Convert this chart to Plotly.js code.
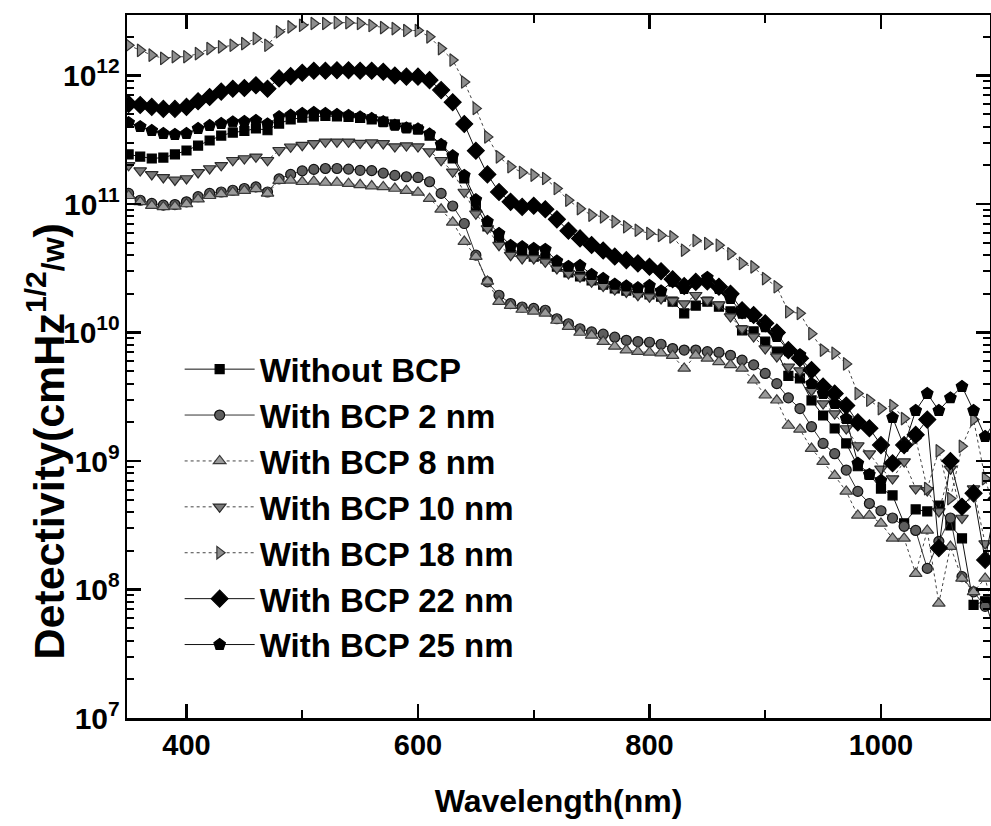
<!DOCTYPE html>
<html>
<head>
<meta charset="utf-8">
<script src="https://cdn.plot.ly/plotly-3.0.1.min.js"></script>
<style>
  html, body { margin: 0; padding: 0; background: #fff; }
  #chart { width: 991px; height: 826px; }
</style>
</head>
<body>
<div id="chart"></div>
<script>
// Wavelength (nm)
const wavelength = [350,360,370,380,390,400,410,420,430,440,450,460,470,480,490,500,510,520,530,540,550,560,570,580,590,600,
  610,620,630,640,650,660,670,680,690,700,710,720,730,740,750,760,770,780,790,800,810,820,830,840,850,860,870,880,890,900,
  910,920,930,940,950,960,970,980,990,1000,1010,1020,1030,1040,1050,1060,1070,1080,1090,1100];

// Detectivity (cmHz^1/2/W)
const withoutBCP = [2.43e11,2.34e11,2.26e11,2.3e11,2.43e11,2.61e11,2.85e11,3.12e11,3.41e11,3.6e11,3.7e11,3.87e11,3.75e11,
  4.23e11,4.55e11,4.71e11,4.8e11,4.85e11,4.8e11,4.76e11,4.67e11,4.55e11,4.38e11,4.16e11,3.94e11,3.8e11,
  3.41e11,2.85e11,2.26e11,1.58e11,9.7e10,6.7e10,5.4e10,4.5e10,4.12e10,3.9e10,3.77e10,3.26e10,2.93e10,
  2.73e10,2.54e10,2.36e10,2.2e10,2.12e10,2.05e10,1.98e10,1.9e10,1.74e10,1.41e10,1.62e10,1.74e10,1.59e10,
  1.46e10,1.04e10,1.02e10,8.5e9,7.1e9,4.6e9,4.4e9,2.96e9,2.26e9,1.79e9,1.37e9,9.1e8,7.85e8,
  6.1e8,5.4e8,3.27e8,4.2e8,4.05e8,4.5e8,3.15e8,2.5e8,7.6e7,8.1e7,4.2e7];

const bcp2 = [1.21e11,1.07e11,1.01e11,9.8e10,9.9e10,1.04e11,1.14e11,1.21e11,1.24e11,1.28e11,1.32e11,1.36e11,1.24e11,
  1.57e11,1.7e11,1.81e11,1.86e11,1.89e11,1.89e11,1.87e11,1.83e11,1.82e11,1.74e11,1.67e11,1.63e11,1.61e11,
  1.49e11,1.21e11,9.65e10,7.05e10,4.0e10,2.48e10,1.95e10,1.68e10,1.58e10,1.54e10,1.49e10,1.28e10,1.17e10,
  1.07e10,1.01e10,9.7e9,9.2e9,8.7e9,8.5e9,8.4e9,8.1e9,7.5e9,7.3e9,7.3e9,7.1e9,7.0e9,
  6.65e9,6.1e9,5.6e9,4.8e9,4.0e9,3.1e9,2.56e9,1.85e9,1.37e9,1.14e9,8.5e8,5.8e8,4.67e8,
  4.1e8,3.6e8,3.1e8,2.88e8,1.46e8,2.37e8,3.6e8,1.26e8,9.6e7,7.4e7,8.5e7];

const bcp8 = [1.16e11,1.04e11,9.7e10,9.5e10,9.6e10,1.0e11,1.09e11,1.16e11,1.2e11,1.23e11,1.27e11,1.31e11,1.21e11,
  1.52e11,1.53e11,1.49e11,1.5e11,1.47e11,1.47e11,1.44e11,1.41e11,1.38e11,1.36e11,1.32e11,1.27e11,1.23e11,
  1.1e11,9.1e10,7.2e10,5.1e10,3.9e10,2.5e10,1.74e10,1.62e10,1.51e10,1.46e10,1.41e10,1.24e10,1.11e10,
  1.0e10,9.5e9,8.5e9,7.8e9,7.3e9,7.1e9,7.0e9,6.9e9,6.6e9,5.25e9,6.65e9,6.3e9,5.9e9,
  5.6e9,5.25e9,4.25e9,3.25e9,2.97e9,1.89e9,1.76e9,1.25e9,9.9e8,7.7e8,5.8e8,3.77e8,3.77e8,
  3.27e8,2.5e8,2.5e8,1.33e8,2.88e8,7.8e7,2.16e8,1.22e8,9.6e7,1.22e8,5.4e7];

const bcp10 = [2.0e11,1.82e11,1.7e11,1.61e11,1.54e11,1.58e11,1.76e11,1.89e11,2.0e11,2.19e11,2.26e11,2.33e11,2.19e11,
  2.62e11,2.79e11,2.87e11,2.96e11,3.05e11,3.05e11,3.05e11,2.98e11,3.0e11,2.96e11,2.8e11,2.85e11,2.8e11,
  2.56e11,2.19e11,1.78e11,1.24e11,8.4e10,6.45e10,4.78e10,4.0e10,3.77e10,3.77e10,3.55e10,3.15e10,2.88e10,
  2.71e10,2.48e10,2.3e10,2.16e10,2.07e10,1.95e10,1.9e10,1.84e10,1.77e10,1.68e10,1.95e10,1.78e10,1.65e10,
  1.33e10,1.07e10,9.3e9,7.5e9,6.5e9,5.4e9,5.06e9,3.54e9,2.8e9,2.34e9,1.79e9,1.32e9,1.14e9,
  8.7e8,7.3e8,9.9e8,6.1e8,5.9e8,4.05e8,8.7e8,3.6e8,6.1e8,2.28e8,1.22e8];

const bcp18 = [1.72e12,1.57e12,1.44e12,1.36e12,1.4e12,1.4e12,1.48e12,1.62e12,1.67e12,1.72e12,1.77e12,1.94e12,1.72e12,
  2.19e12,2.39e12,2.46e12,2.54e12,2.54e12,2.58e12,2.58e12,2.54e12,2.45e12,2.36e12,2.32e12,2.24e12,2.24e12,
  2.0e12,1.62e12,1.32e12,8.9e11,5.55e11,3.33e11,2.33e11,1.95e11,1.76e11,1.68e11,1.58e11,1.32e11,1.07e11,
  9.2e10,8.2e10,7.95e10,7.3e10,6.65e10,6.25e10,5.9e10,5.7e10,5.55e10,4.37e10,5.2e10,4.93e10,4.78e10,
  4.1e10,3.45e10,3.24e10,2.63e10,2.27e10,1.45e10,1.41e10,9.8e9,7.3e9,6.9e9,5.7e9,3.35e9,2.97e9,
  2.56e9,2.7e9,2.14e9,1.5e9,6.1e8,1.2e9,5.1e8,1.3e9,2.1e9,7.3e8,3.6e8];

const bcp22 = [6.0e11,5.9e11,5.7e11,5.5e11,5.5e11,5.7e11,6.3e11,6.8e11,7.5e11,7.9e11,8.0e11,8.4e11,7.9e11,
  9.5e11,9.9e11,1.05e12,1.09e12,1.09e12,1.1e12,1.1e12,1.09e12,1.09e12,1.07e12,1.0e12,9.8e11,9.8e11,
  9.2e11,7.7e11,6.2e11,4.2e11,2.6e11,1.7e11,1.24e11,1.04e11,9.5e10,9.7e10,9.1e10,7.6e10,6.2e10,
  5.4e10,4.8e10,4.35e10,3.9e10,3.66e10,3.45e10,3.25e10,3.0e10,2.6e10,2.3e10,2.48e10,2.5e10,2.27e10,
  2.0e10,1.49e10,1.37e10,1.18e10,1.0e10,7.3e9,6.3e9,5.1e9,3.8e9,3.35e9,2.7e9,2.0e9,1.8e9,
  1.33e9,9.6e8,1.33e9,1.6e9,2.1e9,2.1e8,1.0e9,4.4e8,5.6e8,1.7e8,5.1e8];

const bcp25 = [4.3e11,4.0e11,3.73e11,3.54e11,3.48e11,3.54e11,3.87e11,4.08e11,4.23e11,4.35e11,4.38e11,4.47e11,4.2e11,
  4.78e11,4.91e11,5.06e11,5.15e11,5.06e11,4.97e11,4.88e11,4.76e11,4.63e11,4.37e11,4.1e11,3.9e11,3.84e11,
  3.5e11,2.9e11,2.37e11,1.67e11,1.08e11,7.3e10,5.9e10,4.75e10,4.65e10,4.5e10,4.43e10,3.6e10,3.27e10,
  3.32e10,2.83e10,2.63e10,2.37e10,2.3e10,2.23e10,2.32e10,2.1e10,2.5e10,2.2e10,2.48e10,2.68e10,2.2e10,
  1.84e10,1.41e10,1.33e10,1.11e10,9.3e9,7.2e9,6.7e9,4.0e9,3.35e9,2.8e9,2.14e9,9.6e8,7.85e8,
  7.05e8,2.18e9,1.3e9,2.47e9,3.35e9,2.47e9,3.1e9,3.8e9,2.47e9,1.55e9,2.14e9];

const seriesNames = ['Without BCP','With BCP 2 nm','With BCP 8 nm','With BCP 10 nm','With BCP 18 nm','With BCP 22 nm','With BCP 25 nm'];
const xTickVals = [400,600,800,1000];
const yMinorMantissas = [2,3,4,5,6,7,8,9];
const yDecades = [7,8,9,10,11,12];

// minor tick positions of the log axis (2..9 x 10^n)
const yMinorTickVals = [];
yDecades.forEach(d => yMinorMantissas.forEach(m => yMinorTickVals.push(m * Math.pow(10, d))));

const FONT = '"Liberation Sans", Arial, sans-serif';
const Y_RANGE = [7, 12.471];

function mk(y, name, symbol, size, fill, edge, dash, lcolor) {
  return {
    x: wavelength, y: y, name: name, type: 'scatter', mode: 'lines+markers',
    line: {color: lcolor, width: 1, dash: dash},
    marker: {symbol: symbol, size: size, color: fill, line: {color: edge, width: 1.2}}
  };
}

const data = [
  mk(withoutBCP, seriesNames[0], 'square', 9, '#000', '#000', 'solid', '#111'),
  mk(bcp2, seriesNames[1], 'circle', 10, '#5e5e5e', '#111', 'solid', '#333'),
  mk(bcp8, seriesNames[2], 'triangle-up', 11, '#9a9a9a', '#3a3a3a', 'dot', '#444'),
  mk(bcp10, seriesNames[3], 'triangle-down', 11, '#7a7a7a', '#2a2a2a', 'dot', '#444'),
  mk(bcp18, seriesNames[4], 'triangle-right', 11, '#8e8e8e', '#333', 'dot', '#444'),
  mk(bcp22, seriesNames[5], 'diamond', 13, '#000', '#000', 'solid', '#111'),
  mk(bcp25, seriesNames[6], 'pentagon', 12, '#000', '#000', 'solid', '#111'),
  // empty helper trace that carries the minor-tick axis
  {x: [], y: [], type: 'scatter', mode: 'markers', yaxis: 'y2', showlegend: false, hoverinfo: 'skip'}
];

const layout = {
  width: 991, height: 826,
  margin: {l: 127, r: 1, t: 15, b: 108},
  paper_bgcolor: '#fff', plot_bgcolor: '#fff',
  showlegend: true,
  legend: {
    x: 0.061, y: 0.536, xanchor: 'left', yanchor: 'top',
    bgcolor: 'rgba(0,0,0,0)', borderwidth: 0,
    itemwidth: 70,
    font: {family: FONT, size: 33, color: '#000', weight: 'bold'},
    tracegroupgap: 0
  },
  xaxis: {
    range: [348.6, 1094.2],
    tickvals: xTickVals,
    ticks: 'inside', ticklen: 14, tickwidth: 2.5, tickcolor: '#000',
    minor: {dtick: 100, tick0: 300, ticks: 'inside', ticklen: 8, tickwidth: 2, tickcolor: '#000', showgrid: false},
    showline: true, linewidth: 2.5, linecolor: '#000', mirror: 'ticks',
    showgrid: false, zeroline: false,
    tickfont: {family: FONT, size: 29, color: '#000', weight: 'bold'},
    title: {text: 'Wavelength(nm)', font: {family: FONT, size: 32, color: '#000', weight: 'bold'}, standoff: 30}
  },
  yaxis: {
    type: 'log',
    range: Y_RANGE,
    dtick: 1,
    exponentformat: 'power',
    ticks: 'inside', ticklen: 14, tickwidth: 2.5, tickcolor: '#000',
    showline: true, linewidth: 2.5, linecolor: '#000', mirror: 'ticks',
    showgrid: false, zeroline: false,
    tickfont: {family: FONT, size: 24, color: '#000', weight: 'bold'}
  },
  yaxis2: {
    type: 'log',
    range: Y_RANGE,
    overlaying: 'y', side: 'left', anchor: 'x',
    tickmode: 'array', tickvals: yMinorTickVals,
    ticks: 'inside', ticklen: 7, tickwidth: 2, tickcolor: '#000',
    showticklabels: false,
    showline: true, linewidth: 2.5, linecolor: '#000', mirror: 'ticks',
    showgrid: false, zeroline: false
  },
  annotations: [{
    xref: 'paper', yref: 'paper',
    x: -0.094, y: 0.393, xanchor: 'center', yanchor: 'middle',
    textangle: -90, showarrow: false,
    text: 'Detectivity(cmHz<sup>1/2</sup><span style="font-size:32px">/w</span>)',
    font: {family: FONT, size: 43, color: '#000', weight: 'bold'}
  }]
};

Plotly.newPlot('chart', data, layout, {displayModeBar: false, staticPlot: true});
</script>
</body>
</html>
